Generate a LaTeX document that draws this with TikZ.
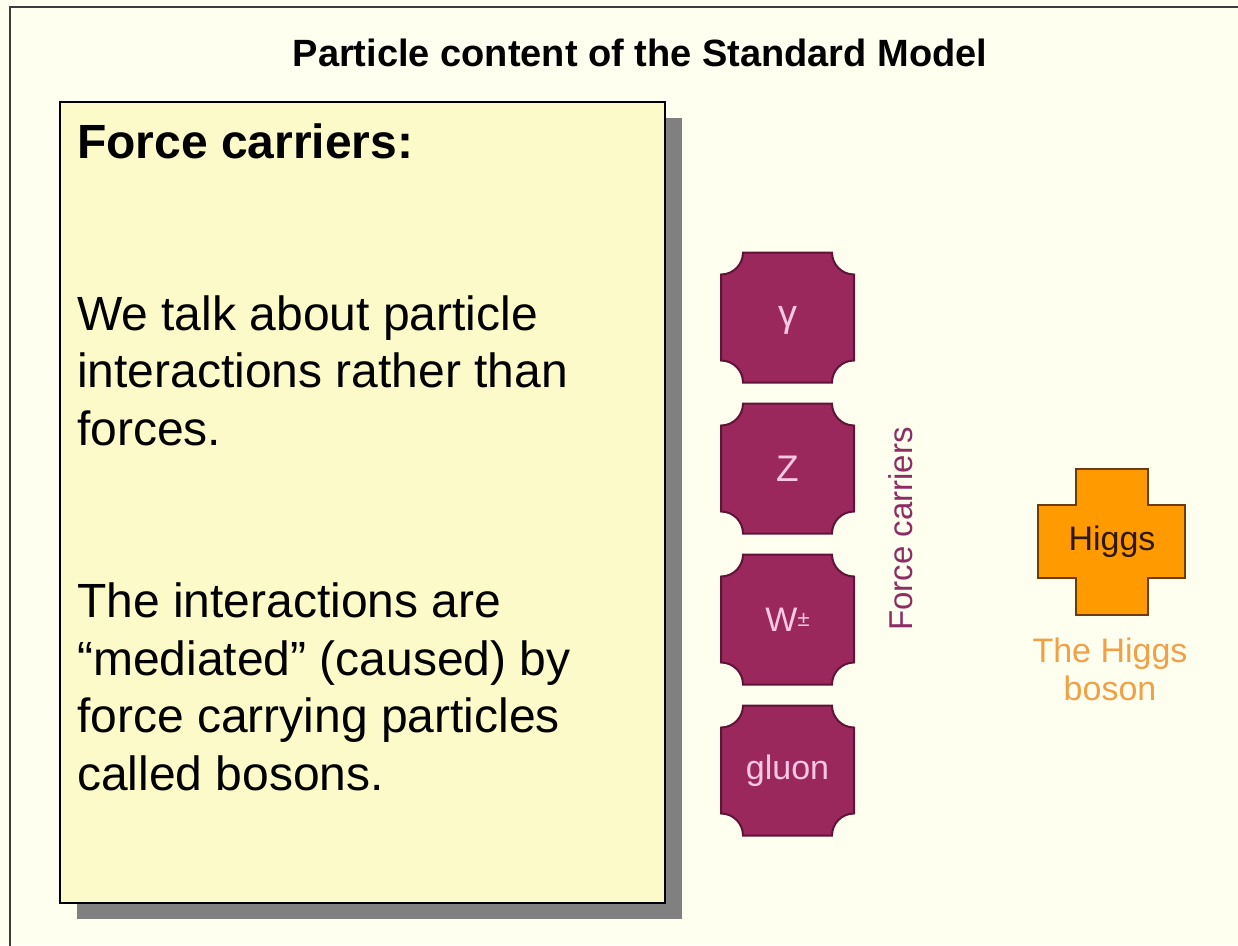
\documentclass[tikz,border=0pt]{standalone}
\usepackage{fontspec}
\setmainfont{Liberation Sans}
\usetikzlibrary{calc}
\definecolor{slidebg}{RGB}{255,255,240}
\definecolor{slideframe}{RGB}{60,60,60}
\definecolor{notebg}{RGB}{252,250,200}
\definecolor{noteshadow}{RGB}{128,128,128}
\definecolor{bosonfill}{RGB}{155,40,92}
\definecolor{bosonedge}{RGB}{95,20,55}
\definecolor{bosonink}{RGB}{250,200,230}
\definecolor{carrierink}{RGB}{140,45,100}
\definecolor{higgsfill}{RGB}{255,155,0}
\definecolor{higgsedge}{RGB}{110,60,10}
\definecolor{higgsink}{RGB}{45,25,0}
\definecolor{higgsnote}{RGB}{240,160,70}
\tikzset{
  bosonbox/.style={fill=bosonfill, draw=bosonedge, line width=2},
  bosonlabel/.style={text=bosonink, font=\fontsize{34}{40}\selectfont, inner sep=0},
  bodyline/.style={anchor=base west, inner sep=0, font=\fontsize{48}{57.5}\selectfont},
}
\def\notchtile[#1](#2,#3){\draw[#1,shift={(#2,#3)}] (-44.5,65) -- (44.5,65) arc[start angle=180,end angle=270,radius=22] -- (66.5,-43) arc[start angle=90,end angle=180,radius=22] -- (-44.5,-65) arc[start angle=0,end angle=90,radius=22] -- (-66.5,-43) -- (-66.5,43) arc[start angle=270,end angle=360,radius=22] -- cycle;}

\begin{document}
\begin{tikzpicture}[x=1pt,y=1pt]
			%%%%% SLIDE %%%%%
			\useasboundingbox (0,0) rectangle (1238,-945);
			\fill[slidebg] (0,0) rectangle (1238,-945);
			\draw[slideframe, line width=2.5] (10,-946) -- (10,-7) -- (1239,-7);
			
			\node[font=\bfseries\fontsize{38}{44}\selectfont, anchor=base, inner sep=0] (title) at (640,-66) {Particle content of the Standard Model};
			
			%%%%% NOTE BOX %%%%%
			\fill[noteshadow] (77,-118) rectangle (682,-919);
			\draw[fill=notebg, line width=2] (60,-102) rectangle (665,-903);
			
			\node[bodyline, font=\bfseries\fontsize{48}{57.5}\selectfont] (head) at (77,-158) {Force carriers:};
			\foreach \y/\t [count=\i] in {330/We talk about particle, 387.5/interactions rather than, 445/forces., 617.5/The interactions are, 675/“mediated” (caused) by, 732.5/force carrying particles, 790/called bosons.}
				\node[bodyline] (body\i) at (77,-\y) {\t};
			
			%%%%% BOSONS %%%%%
			\notchtile[bosonbox](787.5,-317.5)
			\notchtile[bosonbox](787.5,-468.5)
			\notchtile[bosonbox](787.5,-619.5)
			\notchtile[bosonbox](787.5,-770.5)
			
			\node[bosonlabel, font=\fontsize{38}{40}\selectfont] (photon) at (787.5,-320) {γ};
			\node[bosonlabel, font=\fontsize{37}{40}\selectfont] (zboson) at (787.5,-468.5) {Z};
			\node[bosonlabel] (wboson) at (787.5,-619.5) {W\raisebox{5pt}{\fontsize{22}{22}\selectfont ±}};
			\node[bosonlabel] (gluon) at (787.5,-770.5) {gluon};
			
			\node[rotate=90, text=carrierink, font=\fontsize{33}{40}\selectfont, inner sep=0] (carriers) at (901,-529) {Force carriers};
			
			%%%%% HIGGS %%%%%
			\draw[fill=higgsfill, draw=higgsedge, line width=2] (1076,-469) -- (1148,-469) -- (1148,-505) -- (1185,-505) -- (1185,-578) -- (1148,-578) -- (1148,-615) -- (1076,-615) -- (1076,-578) -- (1038,-578) -- (1038,-505) -- (1076,-505) -- cycle;
			\node[text=higgsink, font=\fontsize{34}{40}\selectfont, inner sep=0] (higgs) at (1112,-542) {Higgs};
			\node[text=higgsnote, font=\fontsize{34}{40}\selectfont, anchor=base, inner sep=0] (thehiggs) at (1110,-662) {The Higgs};
			\node[text=higgsnote, font=\fontsize{34}{40}\selectfont, anchor=base, inner sep=0] (boson) at (1110,-700) {boson};
			
			%%%%% END %%%%%
\end{tikzpicture}
\end{document}
